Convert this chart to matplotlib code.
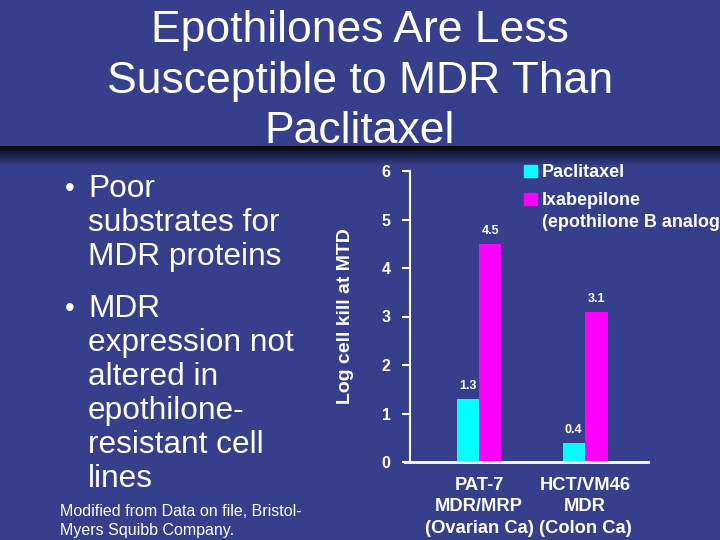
import numpy as np
import matplotlib.pyplot as plt
from matplotlib.patches import Rectangle

plt.rcParams['font.family'] = ['Liberation Sans', 'DejaVu Sans']

# data
groups = ["PAT-7\nMDR/MRP\n(Ovarian Ca)", "HCT/VM46\nMDR\n(Colon Ca)"]
series = ["Paclitaxel", "Ixabepilone\n(epothilone B analog)"]
paclitaxel = [1.3, 0.4]
ixabepilone = [4.5, 3.1]
colors = ["#00FFFF", "#FF00FF"]
yticks = [0, 1, 2, 3, 4, 5, 6]

bg = "#353F8B"
fig = plt.figure(figsize=(7.2, 5.4), dpi=100, facecolor=bg)

# shadow band under the title
band = fig.add_axes([0, 1 - 166 / 540, 1, 20 / 540])
grad = np.linspace(0, 1, 50)
base = np.array([0x35, 0x3F, 0x8B]) / 255.0
shade = (grad ** 0.8)[:, None, None] * base[None, None, :]
band.imshow(shade, aspect="auto", extent=[0, 1, 0, 1])
band.axis("off")

fig.text(0.5, 1 - 81 / 540, "Epothilones Are Less\nSusceptible to MDR Than\nPaclitaxel",
         ha="center", va="center", color="white", fontsize=32, linespacing=1.3)

# bullet text
bullets = [("Poor\nsubstrates for\nMDR proteins", 188),
           ("MDR\nexpression not\naltered in\nepothilone-\nresistant cell\nlines", 308)]
for txt, ytop in bullets:
    fig.text(65 / 720, 1 - (ytop + 1) / 540, "\u2022", ha="left", va="center",
             color="white", fontsize=20)
    fig.text(88 / 720, 1 - (ytop - 14) / 540, txt, ha="left", va="top",
             color="white", fontsize=22.8, linespacing=1.17)
fig.text(60 / 720, 1 - 521 / 540, "Modified from Data on file, Bristol-\nMyers Squibb Company.",
         ha="left", va="center", color="white", fontsize=11.5, linespacing=1.3)

# chart
ax = fig.add_axes([410 / 720, 1 - 462 / 540, 238 / 720, 291 / 540])
ax.set_facecolor(bg)
x = np.arange(len(groups))
w = 0.212
b1 = ax.bar(x - w / 2, paclitaxel, w, color=colors[0])
b2 = ax.bar(x + w / 2, ixabepilone, w, color=colors[1])
for bars, vals in [(b1, paclitaxel), (b2, ixabepilone)]:
    for r, v in zip(bars, vals):
        ax.annotate(f"{v}", (r.get_x() + r.get_width() / 2, v), xytext=(0, 5),
                    textcoords="offset points", ha="center", va="bottom",
                    color="white", fontsize=9, fontweight="bold")
ax.set_xlim(-0.651, 1.594)
ax.set_ylim(0, 6)
ax.set_yticks(yticks)
ax.set_yticklabels([str(t) for t in yticks], fontweight="bold", fontsize=11.5, color="white")
ax.tick_params(axis="y", colors="white", length=6, width=1.5, pad=8)
ax.set_xticks(x)
ax.set_xticklabels(groups, fontweight="bold", fontsize=13.2, color="white", linespacing=1.36)
ax.tick_params(axis="x", length=0, pad=10.5)
for s in ["top", "right"]:
    ax.spines[s].set_visible(False)
ax.spines["left"].set_color("white")
ax.spines["bottom"].set_color("white")
ax.spines["left"].set_linewidth(1.5)
ax.spines["bottom"].set_linewidth(2)
ax.spines["bottom"].set_bounds(-0.7, 1.594)
ax.spines["bottom"].set_clip_on(False)
fig.text(345 / 720, 1 - 316 / 540, "Log cell kill at MTD", rotation=90, ha="center",
         va="center", color="white", fontsize=14, fontweight="bold")

# legend drawn by hand (the slide cuts it off at the right edge)
for i, (lab, c) in enumerate(zip(series, colors)):
    yc = 171 + i * 28
    fig.patches.append(Rectangle((524 / 720, 1 - (yc + 6) / 540), 13 / 720, 12 / 540,
                                 transform=fig.transFigure, color=c))
    fig.text(542 / 720, 1 - (yc - 7) / 540, lab, ha="left", va="top", color="white",
             fontsize=13, fontweight="bold", linespacing=1.42)

fig.savefig("out.png", dpi=100, facecolor=bg)
